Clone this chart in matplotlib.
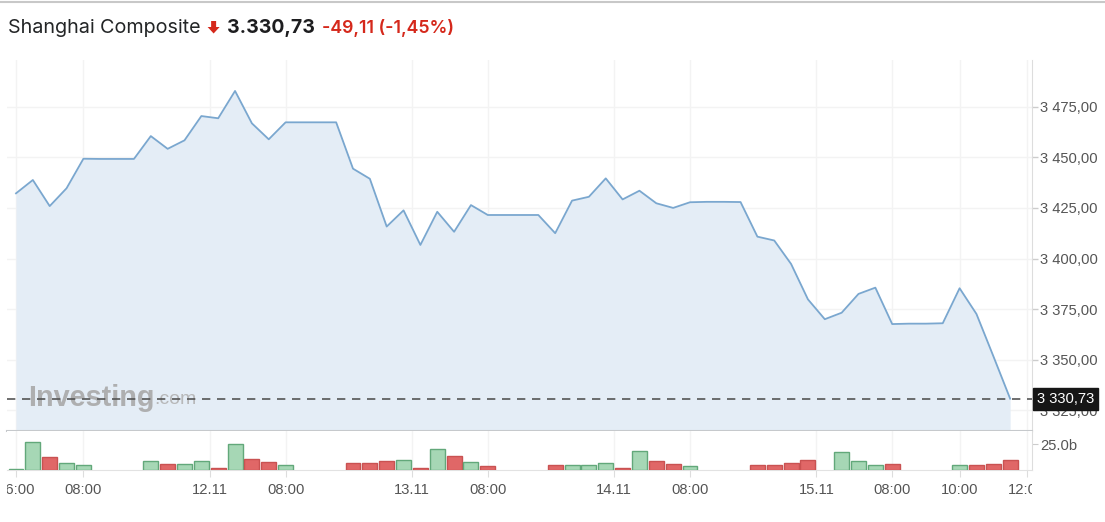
import matplotlib
matplotlib.use("Agg")
import matplotlib.pyplot as plt
from matplotlib.transforms import Bbox, blended_transform_factory
from matplotlib.patches import Polygon
import numpy as np

# ---------------- data ----------------
price = [3432.2, 3438.8, 3425.9, 3434.7, 3449.3, 3449.2, 3449.2, 3449.2, 3460.5, 3454.2,
         3458.4, 3470.4, 3469.3, 3482.8, 3466.8, 3458.9, 3467.3, 3467.3, 3467.3, 3467.3,
         3444.4, 3439.4, 3415.8, 3423.8, 3406.7, 3423.1, 3413.2, 3426.4, 3421.5, 3421.5,
         3421.5, 3421.5, 3412.5, 3428.6, 3430.5, 3439.6, 3429.2, 3433.5, 3427.3, 3425.0,
         3427.8, 3428.0, 3428.0, 3427.9, 3410.8, 3408.9, 3397.3, 3379.8, 3370.0, 3373.2,
         3382.5, 3385.6, 3367.6, 3367.8, 3367.8, 3368.0, 3385.3, 3372.6, 3351.8, 3330.73]
volume_b = [1.0, 26.6, 12.2, 7.0, 4.5, 0, 0, 0, 8.7, 5.8,
            5.8, 8.7, 1.6, 25.0, 10.9, 7.4, 4.5, 0, 0, 0,
            7.0, 7.0, 8.7, 9.6, 1.6, 20.2, 13.2, 7.4, 3.6, 0,
            0, 0, 4.8, 4.8, 4.8, 7.0, 1.6, 18.3, 8.7, 6.1,
            3.6, 0, 0, 0, 4.8, 4.8, 7.0, 9.9, 0, 17.0,
            8.7, 4.8, 6.1, 0, 0, 0, 4.8, 4.8, 6.1, 9.9]
volume_dir = ("GGRGG---GR" "GGRGRRG---" "RRRGRGRGR-"
              "--RGGGRGRR" "G---RRRR-G" "GGR---GRRR")
xtick_pos = [0, 4, 11.5, 16, 23.5, 28, 35.5, 40, 47.5, 52, 56, 60]
xtick_labels = ["06:00", "08:00", "12.11", "08:00", "13.11", "08:00",
                "14.11", "08:00", "15.11", "08:00", "10:00", "12:00"]
ytick_vals = [3325, 3350, 3375, 3400, 3425, 3450, 3475]
vol_tick = [25.0]
vol_tick_label = ["25.0b"]
last_price = 3330.73
title_name = "Shanghai Composite"
title_price = "3.330,73"
title_change = "-49,11 (-1,45%)"
last_label = "3 330,73"

# ---------------- figure ----------------
W, H = 1105, 522
fig = plt.figure(figsize=(W / 100, H / 100), dpi=100)
fig.patch.set_facecolor("white")

def fx(px):
    return px / W

def fy(py):
    return 1 - py / H

left_px, right_px = 7, 1032
top_px, sep_px, base_px = 60, 430.5, 470
ax = fig.add_axes([fx(left_px), fy(sep_px), fx(right_px - left_px), (sep_px - top_px) / H])
axv = fig.add_axes([fx(left_px), fy(base_px), fx(right_px - left_px), (base_px - sep_px) / H], sharex=ax)

x = np.arange(len(price))
xmin = (left_px - 16) / 16.85
xmax = (right_px - 16) / 16.85
ymin, ymax = 3315.0, 3498.1

tick_font = dict(family=["Liberation Sans", "DejaVu Sans"], size=10.6)
grid_c = "#f3f3f3"

# price panel
ax.fill_between(x, price, ymin, color="#e4edf6", zorder=1, linewidth=0)
ax.plot(x, price, color="#7aa7cf", linewidth=1.3, zorder=3)
ax.axhline(last_price, color="#555555", linewidth=1.2, dashes=(5, 4), zorder=5, clip_on=False)
ax.set_xlim(xmin, xmax)
ax.set_ylim(ymin, ymax)
ax.set_yticks(ytick_vals)
ax.set_yticklabels([f"{v:,.2f}".replace(",", " ").replace(".", ",") for v in ytick_vals], **tick_font)
ax.yaxis.tick_right()
ax.tick_params(axis="y", direction="out", length=4, width=1, color="#cccccc",
               labelcolor="#555555", pad=2)
ax.tick_params(axis="x", which="both", length=0, labelbottom=False)
ax.set_xticks(xtick_pos)
ax.grid(True, color=grid_c, linewidth=1, zorder=0)
ax.set_axisbelow(True)
for s in ["top", "left"]:
    ax.spines[s].set_visible(False)
ax.spines["right"].set_color("#dddddd")
ax.spines["bottom"].set_color("#c6c9cc")
ax.spines["bottom"].set_linewidth(1.5)

# watermark
wm_font = ["Liberation Sans", "DejaVu Sans"]
w1 = ax.text(28, H - 398, "Investing", transform=None, fontsize=20.8, fontweight="bold",
             color="#a9a9a9", alpha=0.9, va="center", ha="left", family=wm_font, zorder=2)
fig.canvas.draw()
renderer = fig.canvas.get_renderer()
wb = w1.get_window_extent(renderer)
ax.text(wb.x1, H - 400, ".com", transform=None, fontsize=14, color="#b3b3b3", alpha=0.9,
        va="center", ha="left", family=wm_font, zorder=2)

# last price label
trans = blended_transform_factory(ax.transAxes, ax.transData)
ax.annotate(last_label, xy=(1.0, last_price), xycoords=trans, xytext=(5, 0),
            textcoords="offset pixels", va="center", ha="left", color="white",
            fontsize=10.6, family=["Liberation Sans", "DejaVu Sans"], annotation_clip=False,
            bbox=dict(boxstyle="square,pad=0.28", fc="#161616", ec="#161616"), zorder=10)

# volume panel
bar_colors = []
edge_colors = []
for d in volume_dir:
    if d == "R":
        bar_colors.append("#e06767")
        edge_colors.append("#c95252")
    else:
        bar_colors.append("#a6d7b5")
        edge_colors.append("#62a87a")
vx = [i for i in x if volume_b[i] > 0]
axv.bar(vx, [volume_b[i] for i in vx], width=0.89,
        color=[bar_colors[i] for i in vx], edgecolor=[edge_colors[i] for i in vx],
        linewidth=1.0, zorder=3)
axv.set_ylim(0, 38.0)
axv.set_yticks(vol_tick)
axv.set_yticklabels(vol_tick_label, **tick_font)
axv.yaxis.tick_right()
axv.tick_params(axis="y", direction="out", length=4, color="#cccccc", labelcolor="#555555", pad=2)
axv.set_xticks(xtick_pos)
axv.set_xticklabels(xtick_labels, **tick_font)
axv.tick_params(axis="x", direction="out", length=5, color="#dddddd", labelcolor="#555555", pad=4)
axv.xaxis.grid(True, color=grid_c, linewidth=1, zorder=0)
axv.set_axisbelow(True)
for s in ["top", "left"]:
    axv.spines[s].set_visible(False)
axv.spines["right"].set_color("#dddddd")
axv.spines["bottom"].set_color("#e2e2e2")

clip = Bbox.from_extents(left_px, 0, right_px, H)
for lab in axv.get_xticklabels():
    lab.set_clip_box(clip)
    lab.set_clip_on(True)

# top border line
fig.add_artist(plt.Line2D([0, 1], [fy(1.5), fy(1.5)], color="#c8c8c8", linewidth=1.5,
                          transform=fig.transFigure))

# ---------------- title ----------------
ty = fy(28)
title_font = ["Inter", "DejaVu Sans"]
t1 = fig.text(fx(8), ty, title_name, fontsize=14.2, color="#232526", va="center", ha="left",
              family=title_font)
fig.canvas.draw()
bb = t1.get_window_extent(renderer)
ax_px = bb.x1 + 7
ay_top = 21
pts = [(ax_px + 3.5, ay_top), (ax_px + 8.5, ay_top), (ax_px + 8.5, ay_top + 6),
       (ax_px + 12, ay_top + 6), (ax_px + 6, ay_top + 12.5), (ax_px, ay_top + 6),
       (ax_px + 3.5, ay_top + 6)]
fig.add_artist(Polygon([(fx(p), fy(q)) for p, q in pts], closed=True, transform=fig.transFigure,
                       fc="#d5281b", ec="none"))
t2 = fig.text(fx(ax_px + 19), ty, title_price, fontsize=14.0, fontweight="bold", color="#1d1d1f",
              va="center", ha="left", family=title_font)
fig.canvas.draw()
bb2 = t2.get_window_extent(renderer)
fig.text(fx(bb2.x1 + 8), ty, title_change, fontsize=12.8, fontweight="semibold", color="#d5281b",
         va="center", ha="left", family=title_font)

fig.savefig("out.png", dpi=100, facecolor="white")
